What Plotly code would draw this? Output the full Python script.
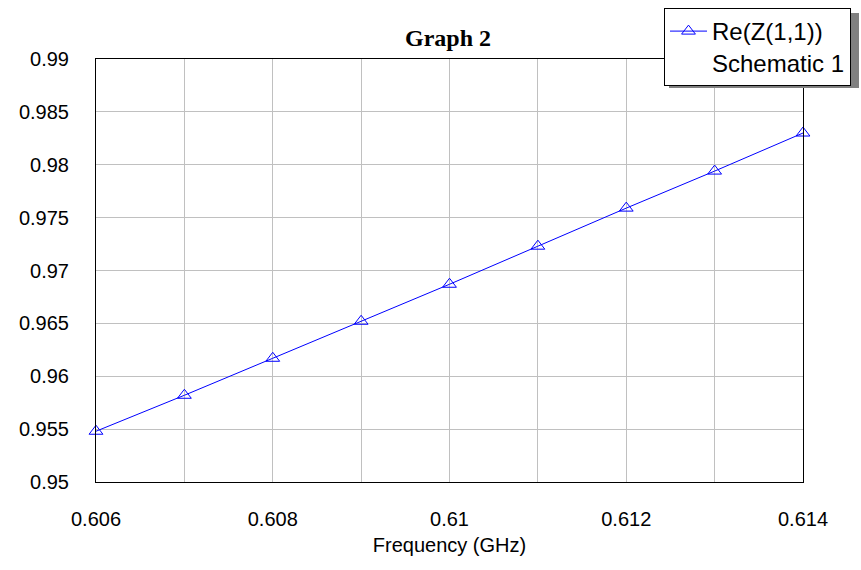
import plotly.graph_objects as go

freq_ghz = [0.606, 0.607, 0.608, 0.609, 0.610, 0.611, 0.612, 0.613, 0.614]
re_z11 = [0.9548, 0.9582, 0.9617, 0.9652, 0.9687, 0.9723, 0.9759, 0.9794, 0.9830]

x_tickvals = [0.606, 0.608, 0.610, 0.612, 0.614]
x_ticktext = ["0.606", "0.608", "0.61", "0.612", "0.614"]
y_tickvals = [0.95, 0.955, 0.96, 0.965, 0.97, 0.975, 0.98, 0.985, 0.99]
y_ticktext = ["0.95", "0.955", "0.96", "0.965", "0.97", "0.975", "0.98", "0.985", "0.99"]

fig = go.Figure()
fig.add_trace(go.Scatter(
    x=freq_ghz, y=re_z11, mode="lines+markers",
    name="Re(Z(1,1))<br>Schematic 1",
    line=dict(color="#0000ff", width=1),
    marker=dict(symbol="triangle-up-open", size=12, color="#0000ff", line=dict(width=1)),
    cliponaxis=False,
))

fig.update_layout(
    width=861, height=570,
    margin=dict(l=96, r=58, t=59, b=88, autoexpand=False),
    paper_bgcolor="white", plot_bgcolor="white",
    font=dict(family="Liberation Sans, Arial", color="black"),
    title=dict(text="<b>Graph 2</b>", x=448 / 861, xanchor="center", y=1 - 38/570, yanchor="middle",
               font=dict(family="Liberation Serif, Times New Roman", size=24, color="black")),
    showlegend=True,
    legend=dict(
        x=(664 - 96) / 707, y=(482 - 8) / 423, xanchor="left", yanchor="top",
        bgcolor="white", bordercolor="black", borderwidth=1,
        font=dict(size=24, family="Liberation Sans, Arial", color="black"),
        valign="top", itemwidth=37, tracegroupgap=0,
        entrywidth=142, entrywidthmode="pixels",
    ),
    shapes=[
        dict(type="rect", xref="paper", yref="paper",
             x0=(669 - 96) / 707, x1=(859 - 96) / 707,
             y0=(482 - 88) / 423, y1=(482 - 13) / 423,
             fillcolor="#808080", line=dict(width=0), layer="above"),
    ],
)

fig.update_xaxes(
    range=[0.606, 0.614], tickvals=x_tickvals, ticktext=x_ticktext,
    showgrid=False, zeroline=False,
    showline=True, linecolor="black", linewidth=1, mirror=True,
    ticks="", ticklabelstandoff=19,
    tickfont=dict(size=20),
    title=dict(text="Frequency (GHz)", font=dict(size=20), standoff=8),
    minor=dict(dtick=0.001, tick0=0.606, showgrid=True, gridcolor="#c0c0c0", gridwidth=1),
)
fig.update_yaxes(
    range=[0.95, 0.99], tickvals=y_tickvals, ticktext=y_ticktext,
    showgrid=True, gridcolor="#c0c0c0", gridwidth=1, zeroline=False,
    showline=True, linecolor="black", linewidth=1, mirror=True,
    ticks="", ticklabelstandoff=22,
    tickfont=dict(size=20),
)

fig.write_html("out.html", config={"displayModeBar": False},
               post_script="document.body.style.margin='0';document.body.style.overflow='hidden';")
